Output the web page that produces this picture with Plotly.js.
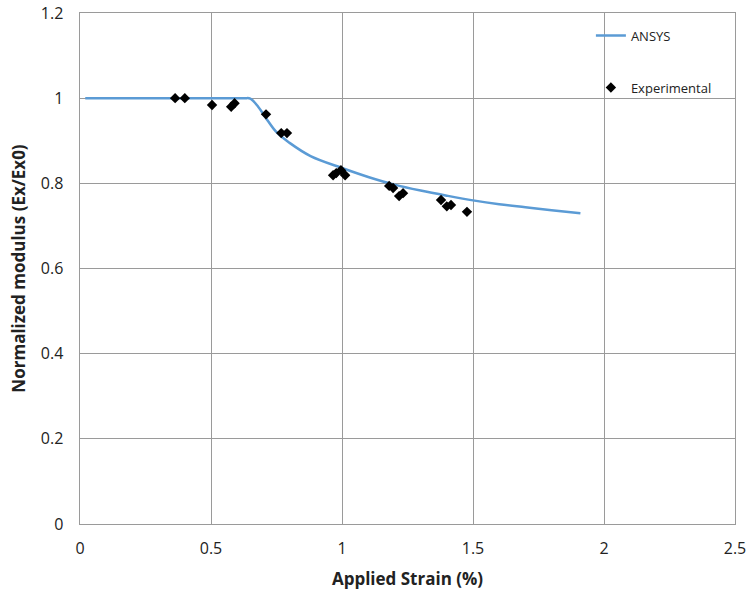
<!DOCTYPE html>
<html><head><meta charset="utf-8">
<script src="https://cdn.plot.ly/plotly-3.0.1.min.js"></script>
<style>body{margin:0;padding:0;background:#fff}#chart{width:749px;height:597px}</style>
</head><body><div id="chart"></div>
<script>
const ansysX = [0.02, 0.1, 0.3, 0.5, 0.6, 0.63, 0.65, 0.68, 0.71, 0.75, 0.8, 0.88, 1.0, 1.1, 1.2, 1.3, 1.4, 1.5, 1.6, 1.7, 1.8, 1.91];
const ansysY = [1.0, 1.0, 1.0, 1.0, 1.0, 1.0, 0.999, 0.98, 0.953, 0.92, 0.895, 0.864, 0.836, 0.815, 0.797, 0.783, 0.771, 0.76, 0.751, 0.744, 0.737, 0.73];
const expX = [0.363, 0.40, 0.504, 0.577, 0.59, 0.71, 0.768, 0.79, 0.966, 0.978, 0.996, 1.012, 1.18, 1.195, 1.218, 1.233, 1.378, 1.4, 1.416, 1.477];
const expY = [1.0, 1.0, 0.984, 0.98, 0.988, 0.962, 0.918, 0.918, 0.819, 0.824, 0.831, 0.819, 0.794, 0.789, 0.77, 0.777, 0.761, 0.746, 0.749, 0.733];

const font = "'Open Sans', 'Liberation Sans', sans-serif";
const traces = [
  {x: ansysX, y: ansysY, mode: 'lines', name: 'ANSYS', line: {color: '#5B9BD5', width: 2.5, shape: 'spline'}, legendgroup: 'a'},
  {x: expX, y: expY, mode: 'markers', name: 'Experimental', marker: {symbol: 'diamond', color: '#000', size: 8}, legendgroup: 'b'}
];
const layout = {
  width: 749, height: 597,
  margin: {l: 80, r: 14, t: 13, b: 73},
  paper_bgcolor: '#fff', plot_bgcolor: '#fff',
  font: {family: font, color: '#404040', size: 15},
  xaxis: {range: [0, 2.5], dtick: 0.5, showgrid: true, gridcolor: '#9a9a9a', gridwidth: 1,
    showline: true, linecolor: '#9a9a9a', mirror: true, zeroline: false, ticks: '', tickfont: {size: 16, color: '#222'},
    ticklabelstandoff: 10,
    title: {text: '<b>Applied Strain (%)</b>', font: {size: 17, color: '#222'}, standoff: 14}},
  yaxis: {range: [0, 1.2], dtick: 0.2, showgrid: true, gridcolor: '#9a9a9a', gridwidth: 1,
    showline: true, linecolor: '#9a9a9a', mirror: true, zeroline: false, ticks: '', tickfont: {size: 16, color: '#222'},
    ticksuffix: '   ',
    title: {text: '<b>Normalized modulus (Ex/Ex0)</b>', font: {size: 17, color: '#222'}, standoff: 10}},
  showlegend: true,
  legend: {x: 0.78, y: 0.985, xanchor: 'left', yanchor: 'top', bgcolor: 'rgba(0,0,0,0)',
    font: {size: 13, color: '#222'}, tracegroupgap: 32},
};
Plotly.newPlot('chart', traces, layout, {displayModeBar: false});
</script></body></html>
